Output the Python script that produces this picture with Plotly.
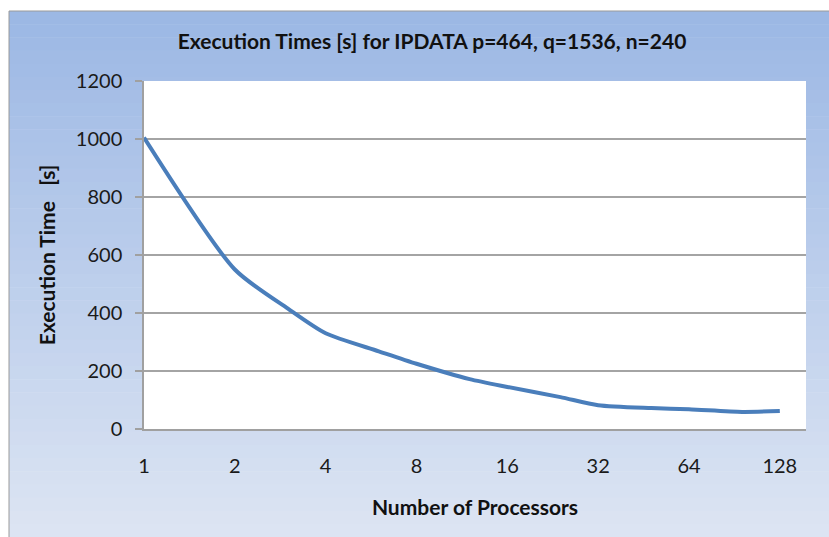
import plotly.graph_objects as go

processors = [1, 2, 3, 4, 6, 8, 12, 16, 24, 32, 48, 64, 96, 128]
exec_times = [1005, 550, 415, 330, 268, 225, 172, 145, 110, 82, 72, 68, 59, 62]
tick_vals = [1, 2, 4, 8, 16, 32, 64, 128]
tick_text = ["1", "2", "4", "8", "16", "32", "64", "128"]

FONT = "Lato, Open Sans, sans-serif"

fig = go.Figure()
fig.add_trace(go.Scatter(
    x=processors, y=exec_times, mode="lines",
    line=dict(color="#4a7ebb", width=4, shape="spline", smoothing=0.7),
    hoverinfo="x+y", showlegend=False))

# gradient background for the chart area (paper coordinates relative to plot area)
W, H = 829, 537
L, R, T, B = 144, 806, 81, 429
pw, ph = R - L, B - T
def px2x(p):
    return (p - L) / pw
def py2y(p):
    return (B - p) / ph

top = (155, 183, 228)
bot = (221, 229, 243)
shapes = []
n = 40
y0p, y1p = 11, 537
for i in range(n):
    a = y0p + (y1p - y0p) * i / n
    b = y0p + (y1p - y0p) * (i + 1) / n + 0.5
    t = (i + 0.5) / n
    c = tuple(round(top[k] + (bot[k] - top[k]) * t) for k in range(3))
    shapes.append(dict(type="rect", xref="paper", yref="paper", layer="below",
                       x0=px2x(9), x1=px2x(830), y0=py2y(b), y1=py2y(a),
                       line=dict(width=0), fillcolor="rgb(%d,%d,%d)" % c))
shapes.append(dict(type="rect", xref="paper", yref="paper", layer="below",
                   x0=px2x(9), x1=px2x(830), y0=py2y(538), y1=py2y(11),
                   line=dict(width=1, color="#9a9a9a"), fillcolor="rgba(0,0,0,0)"))
# white plot area
shapes.append(dict(type="rect", xref="paper", yref="paper", layer="below",
                   x0=0, x1=1, y0=0, y1=1, line=dict(width=0), fillcolor="white"))

fig.update_layout(
    width=W, height=H,
    margin=dict(l=L, r=W - R, t=T, b=H - B),
    paper_bgcolor="white", plot_bgcolor="white",
    shapes=shapes,
    font=dict(family=FONT, size=20, color="#1a1a1a"),
    title=dict(text="<b>Execution Times [s] for IPDATA p=464, q=1536, n=240</b>",
               x=432 / W, xref="container", xanchor="center", y=1 - 42 / H, yanchor="middle",
               font=dict(family=FONT, size=21, color="#111111")),
)
fig.update_xaxes(
    type="log", range=[0, 2.194], tickvals=tick_vals, ticktext=tick_text,
    showgrid=False, showline=True, linecolor="#a0a0a0", linewidth=1.5,
    ticks="", ticklabelstandoff=18, zeroline=False,
    title=dict(text="<b>Number of Processors</b>", standoff=25,
               font=dict(family=FONT, size=21, color="#111111")))
fig.update_yaxes(
    range=[0, 1200], dtick=200, showgrid=True, gridcolor="#a4a4a4", gridwidth=1.5,
    showline=True, linecolor="#a0a0a0", linewidth=1.5, zeroline=False,
    ticks="outside", ticklen=7, tickcolor="#a0a0a0", tickwidth=1.5, ticklabelstandoff=9,
    title=dict(text="<b>Execution Time   [s]</b>", standoff=14,
               font=dict(family=FONT, size=21, color="#111111")))

fig.write_html("out.html", config={"displayModeBar": False},
               post_script="document.body.style.margin='0';")
